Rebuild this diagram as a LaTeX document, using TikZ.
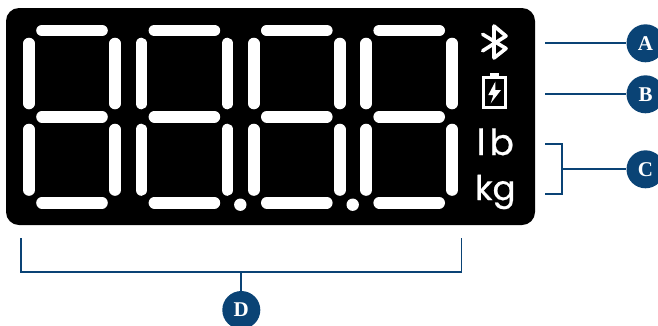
\documentclass[tikz,border=0pt]{standalone}
\usepackage{fontspec}
\setmainfont{Liberation Serif}
\newfontfamily\unitfont[FakeBold=0.6]{Poppins}
\usetikzlibrary{positioning}
\definecolor{navy}{HTML}{0A4375}

\begin{document}
\begin{tikzpicture}[x=1pt,y=-1pt]
  \tikzset{
    segment/.style={white,line width=11.6pt,line cap=round},
    icon/.style={white,line width=3.6pt,line join=round,line cap=round},
    unit/.style={text=white,font=\unitfont\fontsize{36}{36}\selectfont,inner sep=0pt},
    callout/.style={circle,fill=navy,text=white,minimum size=38pt,inner sep=0pt,font=\bfseries\fontsize{21}{21}\selectfont},
    leader/.style={draw=navy,line width=1.8pt}
  }
  \useasboundingbox (0,0) rectangle (658,325);
  \fill[black,rounded corners=13pt] (6,8) rectangle (535,225);
  % four digits
  \foreach \x in {0,112.4,224.8,337.2} {
    \draw[segment] (\x+42,30.5) -- (\x+102,30.5);
    \draw[segment] (\x+42,116.7) -- (\x+102,116.7);
    \draw[segment] (\x+42,202.7) -- (\x+102,202.7);
    \draw[segment] (\x+29,43.5) -- (\x+29,103.5);
    \draw[segment] (\x+115,43.5) -- (\x+115,103.5);
    \draw[segment] (\x+29,129.5) -- (\x+29,190);
    \draw[segment] (\x+115,129.5) -- (\x+115,190);
  }
  \fill[white] (240.3,204.7) circle (6.2);
  \fill[white] (352.7,204.7) circle (6.2);
  % bluetooth
  \draw[icon] (482.7,34.3) -- (506,48.5) -- (494,58) -- (494,26) -- (506,36) -- (482.7,50.8);
  % battery
  \draw[white,line width=3pt] (483.8,77.5) rectangle (505.2,107.7);
  \fill[white] (490,73.3) rectangle (499,77);
  \fill[white] (495.3,81.7) -- (488.3,95) -- (493.3,95) -- (490.7,103.3) -- (501,90) -- (495.3,90) -- cycle;
  % units
  \node[unit,anchor=base] (lb) at (495.3,155) {l\kern4pt b};
  \node[unit,anchor=base,font=\unitfont\fontsize{34}{34}\selectfont] (kg) at (495.3,200) {kg};
  % callouts
  \node[callout] (A) at (645.5,43.3) {A};
  \node[callout] (B) at (645.5,94.3) {B};
  \node[callout] (C) at (645.5,169.3) {C};
  \node[callout] (D) at (241.3,310) {D};
  \coordinate (endA) at (545,43.3);
  \coordinate (endB) at (545,94.3);
  \coordinate (topC) at (545,144);
  \coordinate (botC) at (545,194.3);
  \coordinate (midC) at (562,169.3);
  \coordinate (leftD) at (21,238.3);
  \coordinate (rightD) at (461.5,238.3);
  \coordinate (midD) at (241.3,272);
  \draw[leader] (endA) -- (A);
  \draw[leader] (endB) -- (B);
  \draw[leader] (topC) -| (midC) |- (botC);
  \draw[leader] (midC) -- (C);
  \draw[leader] (leftD) |- (midD) -| (rightD);
  \draw[leader] (midD) -- (D);
\end{tikzpicture}
\end{document}
